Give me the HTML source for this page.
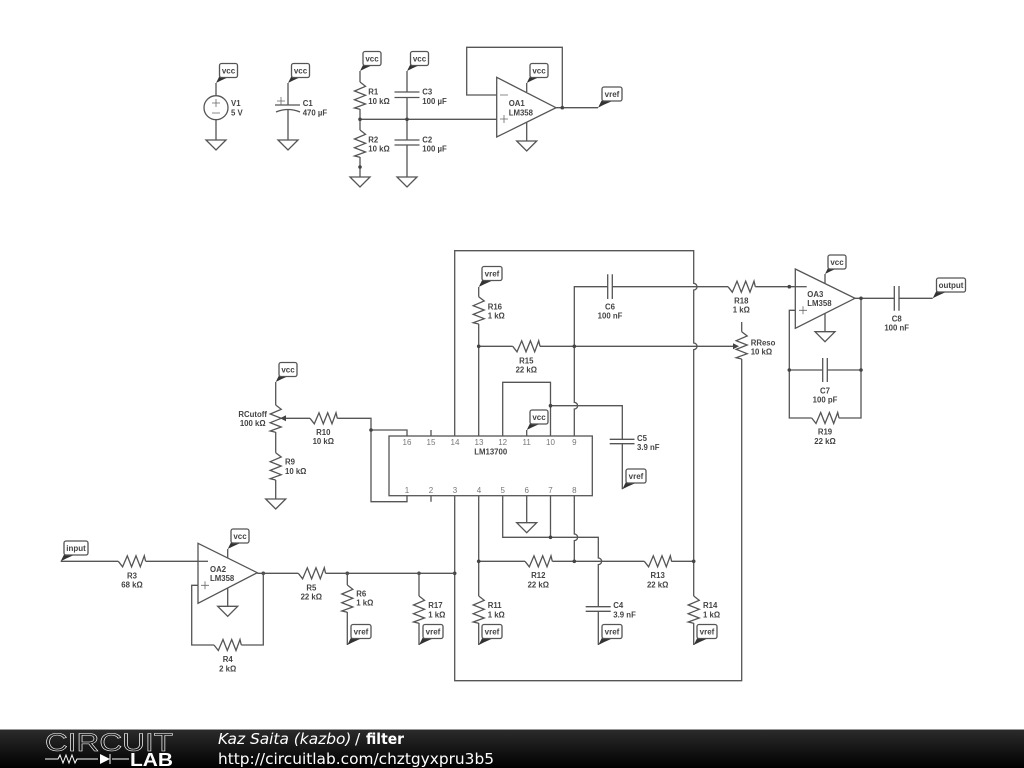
<!DOCTYPE html>
<html><head><meta charset="utf-8"><style>
html,body{margin:0;padding:0;background:#fff;width:1024px;height:768px;overflow:hidden}
svg{display:block}
.w{fill:none;stroke:#555;stroke-width:1.3}
.s{fill:none;stroke:#666;stroke-width:.8}
.n{fill:#444}
.l{font:bold 7.8px "Liberation Sans",sans-serif;fill:#444}
.m{text-anchor:middle}
.p{font:8px "Liberation Sans",sans-serif;fill:#777;text-anchor:middle}
.f{font:bold 8px "Liberation Sans",sans-serif;fill:#444;text-anchor:middle}
.b{fill:#fff;stroke:#555;stroke-width:1.3}
.d{fill:#333}
.o{fill:#fff;stroke:#555;stroke-width:1.3}
.t{font:15.4px "DejaVu Sans",sans-serif;fill:#fff}
</style></head><body>
<svg width="1024" height="768" viewBox="0 0 1024 768" xmlns="http://www.w3.org/2000/svg">
<defs>
<linearGradient id="g" x1="0" y1="0" x2="0" y2="1"><stop offset="0" stop-color="#2c2c2c"/><stop offset="1" stop-color="#000"/></linearGradient>
<polyline id="rh" class="w" points="0,0 4.3,5.5 9,-5.5 13.3,5.5 17.7,-5.5 22,5.5 26,-5.5 27.3,0"/>
<polyline id="rv" class="w" points="0,0 5.5,4.3 -5.5,9 5.5,13.3 -5.5,17.7 5.5,22 -5.5,26 0,27.3"/>
<path id="gnd" class="w" d="M-10 0H10L0 10Z"/>
<path id="wg" class="d" d="M0 0L3.5 -7H15L5.5 -2.8Z"/>
</defs>
<rect width="1024" height="768" fill="#fff"/>

<!-- wires top -->
<path class="w" d="M216 83V95.7M216 119.7V140M288 83V105M288 110V140M360 71V82M360 109V130M360 157V177M407 71V92M407 97.5V140M407 145V177M360 119.3H496.7M496.7 95H466.7V47.3H562.3V107.7M556 107.7H598M526.7 92V83M526.7 122V141"/>
<circle class="w" cx="216" cy="107.7" r="12"/>
<path class="s" d="M212 103H220M216 99V107M212 113H220M277 101H285M281 97V105"/>
<path class="w" d="M275 105H300M276 112Q288 107 300 112M394.5 92H419.5M394.5 97.5H419.5M394.5 140H419.5M394.5 145H419.5"/>
<path class="o" d="M496.7 77.3L556 107.7L496.7 137Z"/>
<path class="s" d="M500 95H508M500 119H508M504 115V123"/>
<use href="#rv" x="360" y="82"/><use href="#rv" x="360" y="130"/>
<use href="#gnd" x="216" y="140"/><use href="#gnd" x="288" y="140"/><use href="#gnd" x="360" y="177"/><use href="#gnd" x="407" y="177"/><use href="#gnd" x="526.7" y="141"/>
<circle class="n" cx="360" cy="119.3" r="1.8"/><circle class="n" cx="407" cy="119.3" r="1.8"/><circle class="n" cx="360" cy="167" r="1.8"/><circle class="n" cx="562.3" cy="107.7" r="1.8"/>

<!-- IC -->
<rect x="389" y="436" width="203.3" height="59.7" fill="#fff" stroke="#555" stroke-width="1.3"/>
<path class="w" d="M431 430V436M431 495.7V501.7"/>

<!-- wires bottom -->
<path class="w" d="M275.7 382V405M275.7 432V452.7M275.7 480V499M285 418.3H310M337.3 418.3H371V501.7H407V495.7M371 430H407V436"/>
<use href="#rv" x="275.7" y="405"/><use href="#rv" x="275.7" y="452.7"/><use href="#rh" x="310" y="418.3"/><use href="#gnd" x="275.7" y="499"/>
<path class="n" d="M280 418.3L286 415.3V421.3Z"/>
<circle class="n" cx="371" cy="430" r="1.8"/>

<!-- outer loops -->
<path class="w" d="M454.7 436V250.7H693.7V283.4a3.3 3.3 0 0 1 0 6.6V343a3.3 3.3 0 0 1 0 6.6V596M454.7 495.7V680.7H741.7V359"/>
<!-- 13/4 -->
<path class="w" d="M478.7 287V296.7M478.7 324V436M478.7 346.3H512.7M540 346.3H733M478.7 495.7V596M478.7 561.3H525M552.3 561.3H644.3M671.3 561.3H693.7M693.7 623V645M478.7 623V645"/>
<use href="#rv" x="478.7" y="296.7"/><use href="#rh" x="512.7" y="346.3"/><use href="#rh" x="525" y="561.3"/><use href="#rh" x="644.3" y="561.3"/><use href="#rv" x="478.7" y="596"/><use href="#rv" x="693.7" y="596"/>
<!-- pin 9 / C6 -->
<path class="w" d="M574.3 436V409a3.3 3.3 0 0 0 0 -6.6V286.7H607.7M612.3 286.7H728M755.3 286.7H806.7M607.7 274.3V299M612.3 274.3V299"/>
<use href="#rh" x="728" y="286.7"/>
<!-- 12/10/C5 -->
<path class="w" d="M502.7 436V382.3H550.5V436M550.5 405.7H622.3V439.3M622.3 443.7V489.3M609.7 439.3H634.5M609.7 443.7H634.5M526.7 430V436"/>
<!-- 5 6 7 8 -->
<path class="w" d="M502.7 495.7V537.3H598.3V558a3.3 3.3 0 0 1 0 6.6V606.7M598.3 611.3V645M585.7 606.7H610.7M585.7 611.3H610.7M526.7 495.7V522.7M550.5 495.7V537.3M574.3 495.7V534a3.3 3.3 0 0 1 0 6.6V561.3"/>
<use href="#gnd" x="526.7" y="522.7"/>
<g>
<circle class="n" cx="478.7" cy="346.3" r="1.8"/><circle class="n" cx="574.3" cy="346.3" r="1.8"/><circle class="n" cx="550.5" cy="405.7" r="1.8"/><circle class="n" cx="550.5" cy="537.3" r="1.8"/><circle class="n" cx="478.7" cy="561.3" r="1.8"/><circle class="n" cx="574.3" cy="561.3" r="1.8"/><circle class="n" cx="693.7" cy="561.3" r="1.8"/><circle class="n" cx="454.7" cy="573.3" r="1.8"/><circle class="n" cx="419" cy="573.3" r="1.8"/><circle class="n" cx="347.3" cy="573.3" r="1.8"/><circle class="n" cx="263.3" cy="573.3" r="1.8"/>
</g>

<!-- RReso -->
<path class="w" d="M741.7 322V331.7"/>
<use href="#rv" x="741.7" y="331.7"/>
<path class="n" d="M739 346.3L733 343.3V349.3Z"/>

<!-- OA3 -->
<path class="w" d="M825 283V274M825 313V331.7M855 298.3H894.3M899 298.3H932.7M894.3 286V310.7M899 286V310.7M795.3 310.3H789.3V418H811.7M838.8 418H861V298.3M789.3 370H822.7M827.3 370H861M822.7 358V382M827.3 358V382"/>
<path class="o" d="M795.3 269L855 298.3L795.3 328.3Z"/>
<path class="w" d="M795.3 286.7H806.7"/>
<path class="s" d="M799 310.3H807M803 306.3V314.3"/>
<use href="#rh" x="811.7" y="418"/><use href="#gnd" x="825" y="331.7"/>
<circle class="n" cx="789.3" cy="286.7" r="1.8"/><circle class="n" cx="861" cy="298.3" r="1.8"/><circle class="n" cx="789.3" cy="370" r="1.8"/><circle class="n" cx="861" cy="370" r="1.8"/>

<!-- OA2 -->
<path class="w" d="M60.7 561.3H118.3M145.7 561.3H198M227.7 558V549M227.7 588V606.3M198 585.3H191.7V645H214M241.3 645H263.3V573.3M257.3 573.3H298.3M325.6 573.3H454.7M347.3 573.3V585M347.3 612V645M419 573.3V596M419 623V645"/>
<path class="o" d="M198 543.3L257.3 572.7L198 603.3Z"/>
<path class="w" d="M198 561.3H208"/>
<path class="s" d="M201 585.3H209M205 581.3V589.3"/>
<use href="#rh" x="118.3" y="561.3"/><use href="#rh" x="214" y="645"/><use href="#rh" x="298.3" y="573.3"/><use href="#rv" x="347.3" y="585"/><use href="#rv" x="419" y="596"/><use href="#gnd" x="227.7" y="606.3"/>

<!-- flags -->
<g>
<use href="#wg" x="216" y="83"/><rect class="b" x="219.5" y="63.5" width="18" height="14" rx="2"/><text class="f" x="228.5" y="73.5">vcc</text>
<use href="#wg" x="288" y="83"/><rect class="b" x="291.5" y="63.5" width="18" height="14" rx="2"/><text class="f" x="300.5" y="73.5">vcc</text>
<use href="#wg" x="360" y="71"/><rect class="b" x="363" y="51.5" width="18" height="14" rx="2"/><text class="f" x="372" y="61.5">vcc</text>
<use href="#wg" x="407" y="71"/><rect class="b" x="410.5" y="51.5" width="18" height="14" rx="2"/><text class="f" x="419.5" y="61.5">vcc</text>
<use href="#wg" x="526.7" y="83"/><rect class="b" x="530" y="63.5" width="18" height="14" rx="2"/><text class="f" x="539" y="73.5">vcc</text>
<use href="#wg" x="598" y="107.7"/><rect class="b" x="602" y="87" width="20" height="14" rx="2"/><text class="f" x="612" y="97">vref</text>
<use href="#wg" x="275.7" y="382"/><rect class="b" x="279" y="362.5" width="18" height="14" rx="2"/><text class="f" x="288" y="372.5">vcc</text>
<use href="#wg" x="478.7" y="287"/><rect class="b" x="482" y="266.5" width="20" height="14" rx="2"/><text class="f" x="492" y="276.5">vref</text>
<use href="#wg" x="526.7" y="430"/><rect class="b" x="530" y="410" width="18" height="14" rx="2"/><text class="f" x="539" y="420">vcc</text>
<use href="#wg" x="622.3" y="489.3"/><rect class="b" x="626" y="469" width="20" height="14" rx="2"/><text class="f" x="636" y="479">vref</text>
<use href="#wg" x="478.7" y="645"/><rect class="b" x="482" y="624.5" width="20" height="14" rx="2"/><text class="f" x="492" y="634.5">vref</text>
<use href="#wg" x="598.3" y="645"/><rect class="b" x="602" y="624.5" width="20" height="14" rx="2"/><text class="f" x="612" y="634.5">vref</text>
<use href="#wg" x="693.7" y="645"/><rect class="b" x="697" y="624.5" width="20" height="14" rx="2"/><text class="f" x="707" y="634.5">vref</text>
<use href="#wg" x="347.3" y="645"/><rect class="b" x="351" y="624.5" width="20" height="14" rx="2"/><text class="f" x="361" y="634.5">vref</text>
<use href="#wg" x="419" y="645"/><rect class="b" x="423" y="624.5" width="20" height="14" rx="2"/><text class="f" x="433" y="634.5">vref</text>
<use href="#wg" x="825" y="274"/><rect class="b" x="828" y="255" width="18" height="14" rx="2"/><text class="f" x="837" y="265">vcc</text>
<use href="#wg" x="932.7" y="298.3"/><rect class="b" x="936.5" y="278" width="29" height="14" rx="2"/><text class="f" x="951" y="288">output</text>
<use href="#wg" x="60.7" y="561.3"/><rect class="b" x="64" y="541" width="24" height="14" rx="2"/><text class="f" x="76" y="551">input</text>
<use href="#wg" x="227.7" y="549"/><rect class="b" x="231" y="529" width="18" height="14" rx="2"/><text class="f" x="240" y="539">vcc</text>
</g>

<!-- labels -->
<g class="l">
<text x="231" y="106">V1</text><text x="231" y="115.7">5 V</text>
<text x="302.7" y="106">C1</text><text x="302.7" y="115.7">470 µF</text>
<text x="368.3" y="94.5">R1</text><text x="368.3" y="104">10 kΩ</text>
<text x="368.3" y="142.3">R2</text><text x="368.3" y="151.7">10 kΩ</text>
<text x="422.3" y="94.5">C3</text><text x="422.3" y="104">100 µF</text>
<text x="422.3" y="142.3">C2</text><text x="422.3" y="151.7">100 µF</text>
<text x="508.7" y="106">OA1</text><text x="508.7" y="115.5">LM358</text>
<text class="m" x="252.7" y="417">RCutoff</text><text class="m" x="252.7" y="426">100 kΩ</text>
<text class="m" x="323.3" y="435">R10</text><text class="m" x="323.3" y="444">10 kΩ</text>
<text x="285" y="464.7">R9</text><text x="285" y="474">10 kΩ</text>
<text x="487.7" y="309.3">R16</text><text x="487.7" y="318.7">1 kΩ</text>
<text class="m" x="610" y="309.3">C6</text><text class="m" x="610" y="318.7">100 nF</text>
<text class="m" x="526.3" y="363.3">R15</text><text class="m" x="526.3" y="372.3">22 kΩ</text>
<text x="637" y="441">C5</text><text x="637" y="450">3.9 nF</text>
<text class="m" x="490.7" y="454.5">LM13700</text>
<text class="m" x="538.3" y="578">R12</text><text class="m" x="538.3" y="587.3">22 kΩ</text>
<text class="m" x="657.7" y="578">R13</text><text class="m" x="657.7" y="587.3">22 kΩ</text>
<text x="487.7" y="608">R11</text><text x="487.7" y="617.3">1 kΩ</text>
<text x="613.3" y="608">C4</text><text x="613.3" y="617.3">3.9 nF</text>
<text x="703" y="608">R14</text><text x="703" y="617.3">1 kΩ</text>
<text x="356.3" y="596.3">R6</text><text x="356.3" y="605.3">1 kΩ</text>
<text x="428.3" y="608">R17</text><text x="428.3" y="617.3">1 kΩ</text>
<text class="m" x="311.3" y="590.3">R5</text><text class="m" x="311.3" y="599.7">22 kΩ</text>
<text class="m" x="132" y="578.7">R3</text><text class="m" x="132" y="587.7">68 kΩ</text>
<text class="m" x="227.7" y="662">R4</text><text class="m" x="227.7" y="671.3">2 kΩ</text>
<text x="210" y="572">OA2</text><text x="210" y="581">LM358</text>
<text class="m" x="741.3" y="303.7">R18</text><text class="m" x="741.3" y="312.7">1 kΩ</text>
<text x="750.7" y="345.3">RReso</text><text x="750.7" y="354.7">10 kΩ</text>
<text x="807.3" y="297">OA3</text><text x="807.3" y="306">LM358</text>
<text class="m" x="825" y="393.3">C7</text><text class="m" x="825" y="402.7">100 pF</text>
<text class="m" x="825" y="434.7">R19</text><text class="m" x="825" y="444">22 kΩ</text>
<text class="m" x="896.7" y="321.3">C8</text><text class="m" x="896.7" y="330.3">100 nF</text>
</g>
<g>
<text class="p" x="407" y="445">16</text><text class="p" x="431" y="445">15</text><text class="p" x="455" y="445">14</text><text class="p" x="479" y="445">13</text><text class="p" x="502.7" y="445">12</text><text class="p" x="526.7" y="445">11</text><text class="p" x="550.5" y="445">10</text><text class="p" x="574.3" y="445">9</text>
<text class="p" x="407" y="493">1</text><text class="p" x="431" y="493">2</text><text class="p" x="455" y="493">3</text><text class="p" x="479" y="493">4</text><text class="p" x="502.7" y="493">5</text><text class="p" x="526.7" y="493">6</text><text class="p" x="550.5" y="493">7</text><text class="p" x="574.3" y="493">8</text>
</g>

<!-- footer -->
<rect y="729" width="1024" height="39" fill="url(#g)"/>
<rect y="729" width="1024" height="1" fill="#999"/>
<text x="45" y="751" font-family="Liberation Sans,sans-serif" font-size="25" fill="none" stroke="#fff" stroke-width="0.55" textLength="128" lengthAdjust="spacingAndGlyphs">CIRCUIT</text>
<path d="M45 759H58L60 755L63 763L66 755L69 763L72 755L75 763L77 759H98M112 759H129M110 754V764" fill="none" stroke="#fff" stroke-width="1"/>
<path d="M100 754L110 759L100 764Z" fill="#fff"/>
<text x="130" y="766" font-family="Liberation Sans,sans-serif" font-size="18" font-weight="bold" fill="#fff" textLength="43" lengthAdjust="spacingAndGlyphs">LAB</text>
<text class="t" x="218" y="744" font-style="italic" style="font-style:italic">Kaz Saita (kazbo)</text>
<text class="t" x="355" y="744">/</text>
<text class="t" x="366" y="744" style="font-weight:bold" textLength="38" lengthAdjust="spacingAndGlyphs">filter</text>
<text class="t" x="218" y="764" textLength="276" lengthAdjust="spacingAndGlyphs">http://circuitlab.com/chztgyxpru3b5</text>
</svg>
</body></html>
